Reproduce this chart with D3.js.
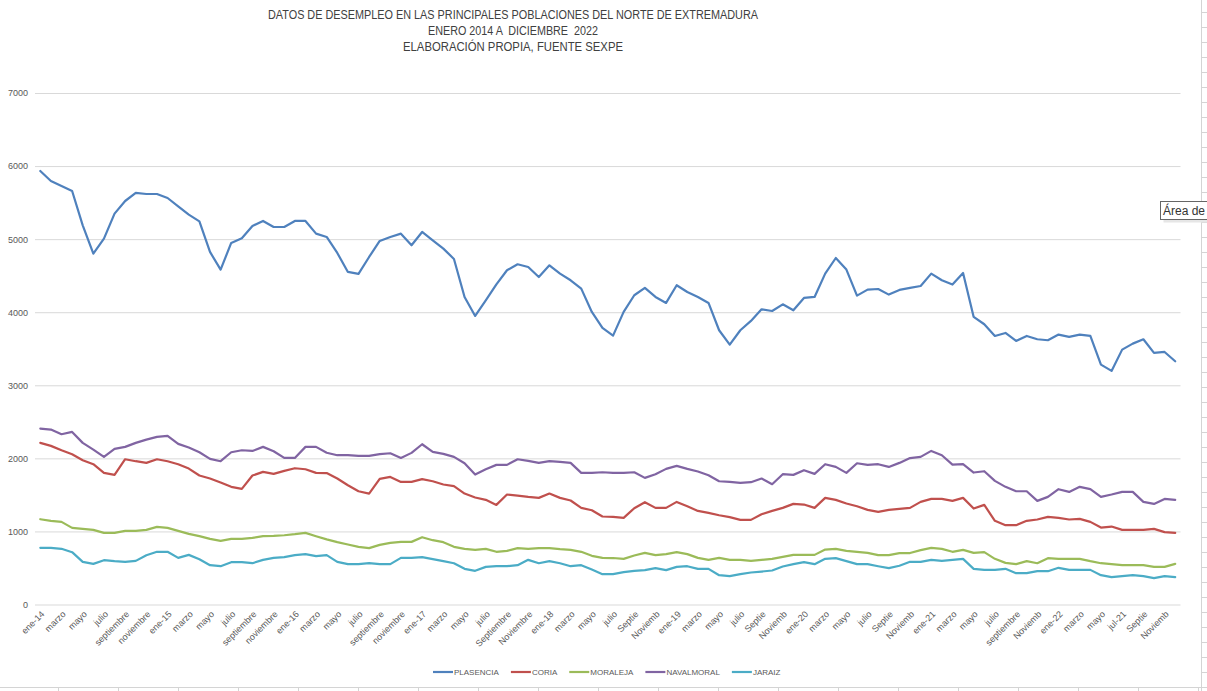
<!DOCTYPE html>
<html>
<head>
  <meta charset="utf-8">
  <script src="https://cdn.jsdelivr.net/npm/d3@7"></script>
  <style>
    body {
      margin: 0;
      background: #fff;
      font-family: 'Liberation Sans', Arial, sans-serif;
    }
    .grid line {
      stroke: #d9d9d9;
      stroke-width: 1px;
    }
    .grid text, .xaxis text {
      fill: #595959;
      font-size: 9px;
    }
    .serie {
      fill: none;
      stroke-width: 2.2px;
      stroke-linejoin: round;
      stroke-linecap: round;
    }
    .title {
      fill: #404040;
      font-size: 12px;
      text-anchor: middle;
      white-space: pre;
    }
    .legend text {
      fill: #595959;
      font-size: 8px;
    }
    .sheet {
      stroke: #d4d4d4;
      stroke-width: 1px;
    }
  </style>
</head>
<body>
<script>

  // etiquetas del eje (una cada dos meses)
  var tickLabels = [
    "ene-14", "marzo", "mayo", "julio", "septiembre", "noviembre",
    "ene-15", "marzo", "mayo", "julio", "septiembre", "noviembre",
    "ene-16", "marzo", "mayo", "julio", "septiembre", "noviembre",
    "ene-17", "marzo", "mayo", "julio", "Septiembre", "Noviembre",
    "ene-18", "marzo", "mayo", "julio", "Septie", "Noviemb",
    "ene-19", "marzo", "mayo", "julio", "Septie", "Noviemb",
    "ene-20", "marzo", "mayo", "julio", "Septie", "Noviemb",
    "ene-21", "marzo", "mayo", "julio", "septiembre", "Noviemb",
    "ene-22", "marzo", "mayo", "jul-21", "Septie", "Noviemb"
  ]

  var yTicks = [0, 1000, 2000, 3000, 4000, 5000, 6000, 7000]

  var titleLines = [
    "DATOS DE DESEMPLEO EN LAS PRINCIPALES POBLACIONES DEL NORTE DE EXTREMADURA",
    "ENERO 2014 A  DICIEMBRE  2022",
    "ELABORACIÓN PROPIA, FUENTE SEXPE"
  ]

  var names = ["PLASENCIA", "CORIA", "MORALEJA", "NAVALMORAL", "JARAIZ"]
  var colors = ["#4f81bd", "#c0504d", "#9bbb59", "#8064a2", "#4bacc6"]

  // datos mensuales ene-14 .. dic-22
  var plasencia = [
    5932, 5795, 5727, 5659, 5189, 4802, 5007, 5349, 5522, 5632, 5618, 5618,
    5563, 5449, 5335, 5244, 4825, 4583, 4948, 5011, 5180, 5249, 5166, 5166,
    5249, 5249, 5075, 5030, 4811, 4551, 4524, 4756, 4975, 5030, 5075, 4916,
    5098, 4984, 4870, 4729, 4209, 3949, 4163, 4382, 4574, 4656, 4619, 4482,
    4642, 4528, 4437, 4323, 4004, 3785, 3680, 4004, 4232, 4332, 4209, 4127,
    4369, 4277, 4209, 4127, 3753, 3557, 3753, 3881, 4040, 4017, 4108, 4026,
    4195, 4209, 4528, 4742, 4583, 4227, 4309, 4318, 4241, 4305, 4332, 4359,
    4528, 4437, 4378, 4537, 3935, 3835, 3675, 3716, 3607, 3675, 3630, 3616,
    3694, 3662, 3694, 3675, 3283, 3197, 3488, 3570, 3630, 3443, 3456, 3329
  ]
  var coria = [
    2212, 2171, 2111, 2057, 1975, 1920, 1801, 1774, 1988, 1961, 1938, 1988,
    1961, 1920, 1860, 1765, 1724, 1669, 1610, 1582, 1765, 1815, 1788, 1829,
    1865, 1851, 1801, 1799, 1724, 1632, 1550, 1518, 1719, 1746, 1678, 1678,
    1715, 1687, 1642, 1619, 1518, 1464, 1432, 1363, 1505, 1491, 1473, 1459,
    1518, 1459, 1423, 1322, 1290, 1204, 1199, 1186, 1318, 1400, 1322, 1322,
    1404, 1345, 1281, 1254, 1222, 1195, 1158, 1158, 1236, 1281, 1322, 1377,
    1368, 1322, 1459, 1432, 1382, 1345, 1295, 1268, 1295, 1309, 1322, 1404,
    1445, 1445, 1418, 1459, 1313, 1363, 1145, 1085, 1085, 1145, 1163, 1199,
    1186, 1163, 1172, 1131, 1053, 1067, 1021, 1021, 1021, 1035, 990, 980
  ]
  var moraleja = [
    1167, 1145, 1131, 1049, 1035, 1021, 980, 980, 1008, 1008, 1021, 1062,
    1049, 1008, 967, 935, 898, 871, 898, 898, 912, 935, 939, 948,
    962, 980, 935, 891, 853, 821, 789, 771, 816, 844, 857, 857,
    921, 880, 853, 789, 762, 748, 762, 721, 734, 771, 762, 771,
    771, 757, 748, 721, 666, 638, 636, 625, 670, 707, 675, 689,
    716, 689, 638, 611, 638, 611, 611, 597, 611, 625, 652, 679,
    679, 679, 752, 762, 734, 721, 707, 675, 675, 702, 704, 744,
    775, 762, 721, 748, 707, 716, 625, 570, 552, 593, 565, 634,
    625, 625, 625, 593, 565, 552, 538, 538, 538, 515, 515, 556
  ]
  var navalmoral = [
    2408, 2394, 2330, 2362, 2212, 2120, 2020, 2130, 2157, 2212, 2257, 2294,
    2307, 2198, 2148, 2084, 1993, 1961, 2084, 2111, 2102, 2157, 2098, 2006,
    2006, 2157, 2157, 2077, 2043, 2043, 2034, 2034, 2057, 2070, 2006, 2075,
    2193, 2088, 2061, 2020, 1933, 1778, 1851, 1911, 1911, 1988, 1965, 1938,
    1961, 1952, 1938, 1801, 1801, 1810, 1801, 1801, 1810, 1733, 1783, 1856,
    1897, 1856, 1820, 1769, 1687, 1678, 1664, 1674, 1724, 1646, 1783, 1774,
    1838, 1788, 1920, 1883, 1801, 1933, 1911, 1920, 1883, 1938, 2004, 2020,
    2102, 2043, 1915, 1920, 1806, 1824, 1692, 1610, 1550, 1550, 1418, 1473,
    1578, 1541, 1610, 1578, 1473, 1505, 1541, 1541, 1404, 1377, 1445, 1432
  ]
  var jaraiz = [
    775, 775, 762, 716, 584, 556, 606, 593, 584, 597, 675, 721,
    721, 638, 679, 620, 538, 524, 579, 579, 565, 611, 638, 648,
    675, 689, 661, 675, 584, 552, 552, 565, 552, 552, 638, 638,
    648, 620, 593, 565, 488, 461, 515, 524, 524, 538, 611, 565,
    593, 565, 524, 538, 479, 415, 415, 442, 461, 470, 497, 470,
    515, 524, 488, 488, 401, 388, 415, 438, 451, 465, 520, 552,
    579, 552, 625, 634, 593, 552, 552, 524, 497, 530, 584, 584,
    611, 597, 611, 625, 488, 474, 474, 488, 429, 429, 456, 456,
    502, 474, 474, 474, 401, 374, 388, 401, 388, 360, 388, 374
  ]
  var series = [plasencia, coria, moraleja, navalmoral, jaraiz]

  var width = 1207
  var height = 691
  var plotLeft = 35, plotRight = 1180.5, plotTop = 93, plotBottom = 604.5

  var svg = d3.select("body").append("svg")
    .attr("width", width)
    .attr("height", height)

  var x = d3.scalePoint()
    .domain(d3.range(plasencia.length))
    .range([plotLeft, plotRight])
    .padding(0.5)

  var y = d3.scaleLinear()
    .domain([0, 7000])
    .range([plotBottom, plotTop])

  // rejilla de la hoja de cálculo
  svg.append("line").attr("class", "sheet")
    .attr("x1", 0).attr("x2", width).attr("y1", 687.5).attr("y2", 687.5)
  svg.selectAll(".colTick").data(d3.range(58, width, 60)).enter()
    .append("line").attr("class", "sheet")
    .attr("x1", d => d + 0.5).attr("x2", d => d + 0.5)
    .attr("y1", 687.5).attr("y2", height)
  svg.append("line").attr("class", "sheet")
    .attr("x1", 1201.5).attr("x2", 1201.5).attr("y1", 0).attr("y2", height)
  svg.selectAll(".rowTick").data(d3.range(12.5, height, 15)).enter()
    .append("line").attr("class", "sheet")
    .attr("x1", 1201.5).attr("x2", width).attr("y1", d => d).attr("y2", d => d)

  // titulo
  svg.selectAll(".title").data(titleLines).enter()
    .append("text")
    .attr("class", "title")
    .attr("x", 513)
    .attr("y", (d, i) => 19 + i * 16)
    .attr("textLength", (d, i) => [490, 170, 220][i])
    .attr("lengthAdjust", "spacingAndGlyphs")
    .text(d => d)

  // eje y con rejilla
  var gy = svg.append("g")
    .attr("class", "grid")
    .attr("transform", "translate(" + plotLeft + ",0)")
    .call(d3.axisLeft(y)
      .tickValues(yTicks)
      .tickFormat(d3.format("d"))
      .tickSize(-(plotRight - plotLeft))
      .tickPadding(7))
  gy.select(".domain").remove()

  // eje x
  var gx = svg.append("g")
    .attr("class", "xaxis")
    .attr("transform", "translate(0," + plotBottom + ")")
    .call(d3.axisBottom(x)
      .tickValues(d3.range(0, plasencia.length, 2))
      .tickSize(0)
      .tickFormat(d => tickLabels[d / 2]))
  gx.select(".domain").remove()
  gx.selectAll("text")
    .attr("text-anchor", "end")
    .attr("x", 0).attr("y", 0).attr("dy", "0.35em")
    .attr("transform", "translate(2,8) rotate(-45)")

  // series
  var line = d3.line()
    .x((d, i) => x(i))
    .y(d => y(d))

  svg.selectAll(".serie").data(series).enter()
    .append("path")
    .attr("class", "serie")
    .attr("stroke", (d, i) => colors[i])
    .attr("d", line)

  // leyenda
  var legend = svg.append("g").attr("class", "legend")
  var lx = 433
  names.forEach(function (n, i) {
    var g = legend.append("g").attr("transform", "translate(" + lx + ",672)")
    g.append("line")
      .attr("x1", 0).attr("x2", 20)
      .attr("stroke", colors[i]).attr("stroke-width", 2.2)
    var t = g.append("text").attr("x", 21).attr("dy", "0.35em").text(n)
    lx += 21 + t.node().getComputedTextLength() + 12
  })

  // recuadro "Área de"
  svg.append("rect")
    .attr("x", 1163.5).attr("y", 204.5).attr("width", 50).attr("height", 18)
    .attr("fill", "#e6e6e6")
  svg.append("rect")
    .attr("x", 1160.5).attr("y", 201.5).attr("width", 50).attr("height", 18)
    .attr("fill", "#fff").attr("stroke", "#666")
  svg.append("text")
    .attr("x", 1163).attr("y", 215)
    .attr("fill", "#333").attr("font-size", "12px")
    .text("Área de")

</script>
</body>
</html>
